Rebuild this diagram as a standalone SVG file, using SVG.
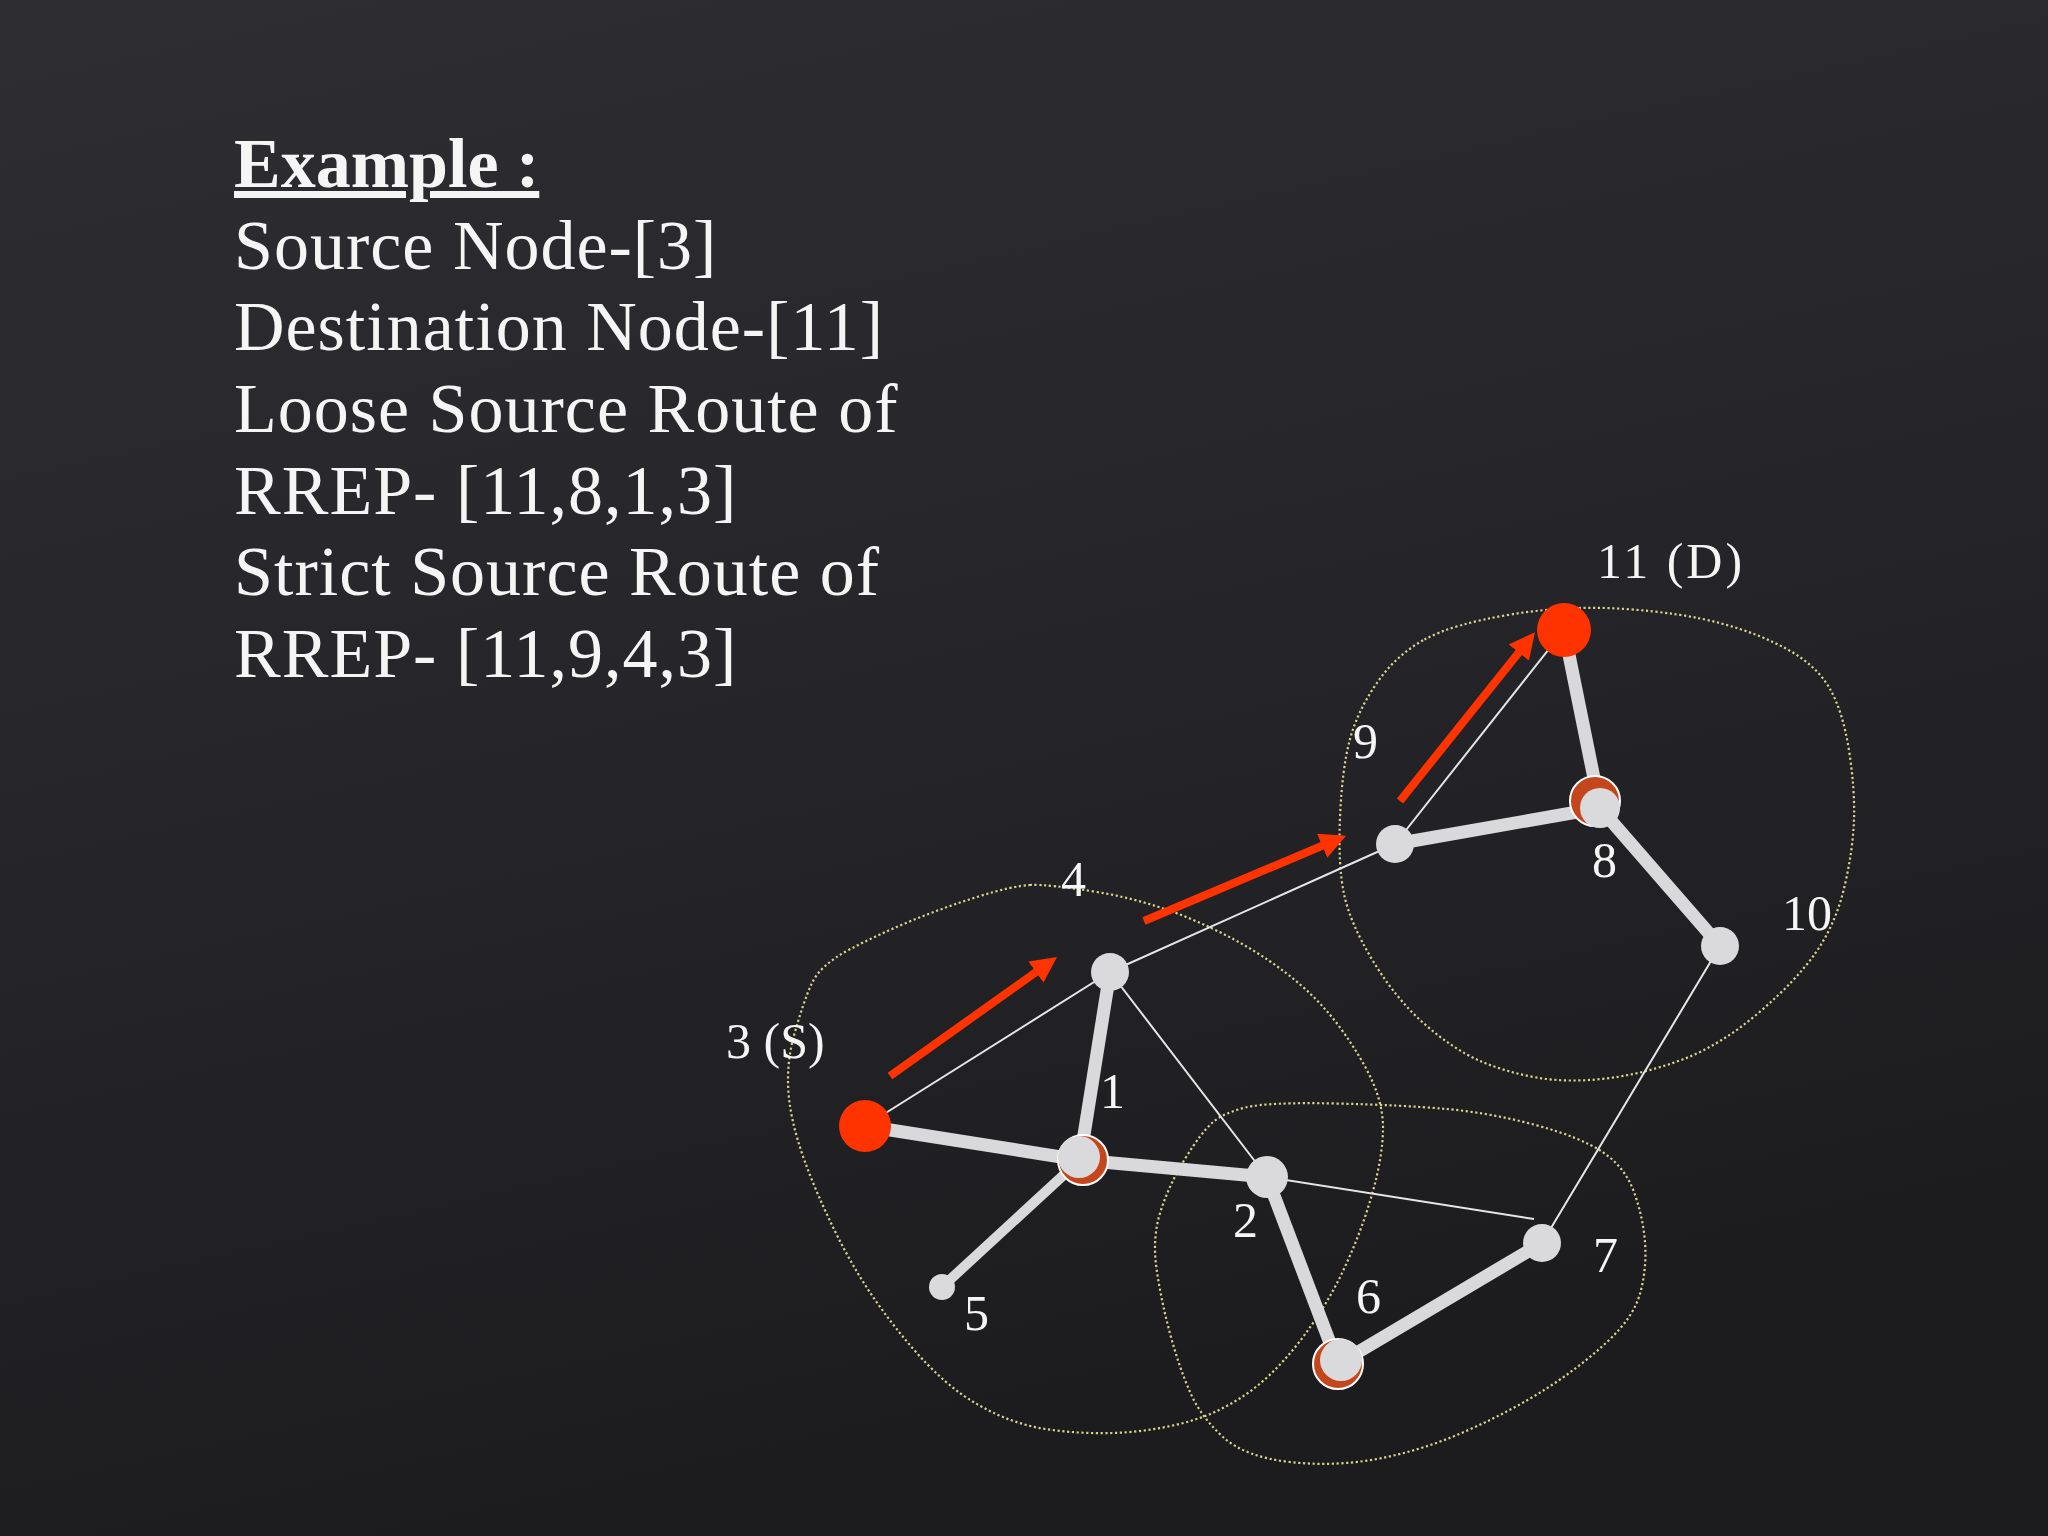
<svg xmlns="http://www.w3.org/2000/svg" width="2048" height="1536" viewBox="0 0 2048 1536">
<defs>
<linearGradient id="bg" x1="0" y1="0" x2="0.3" y2="1">
<stop offset="0" stop-color="#2d2d32"/>
<stop offset="0.5" stop-color="#26262a"/>
<stop offset="1" stop-color="#1c1c1f"/>
</linearGradient>
<marker id="ah" viewBox="0 0 26 26" refX="2" refY="13" markerWidth="26" markerHeight="26" markerUnits="userSpaceOnUse" orient="auto">
<path d="M0,0 L26,13 L0,26 Z" fill="#fe3300"/>
</marker>
<style>
.t{font-family:"Liberation Serif","Times New Roman",serif;fill:#f5f5f5;font-size:70px;letter-spacing:1px}
.tb{font-weight:bold;text-decoration:underline;letter-spacing:0}
.lbl{font-family:"Liberation Serif","Times New Roman",serif;fill:#f5f5f5;font-size:50px}
.zone{fill:none;stroke:#d8d28c;stroke-width:2.2;stroke-dasharray:2.2 2.6}
.thick{stroke:#d9d9db;stroke-width:13;stroke-linecap:butt}
.thin{stroke:#e6e6e6;stroke-width:2}
.arrow{stroke:#fe3300;stroke-width:8;marker-end:url(#ah)}
.node{fill:#dadadc}
.red{fill:#fe3300}
.ring{fill:#c4461d;stroke:#ffffff;stroke-width:2}
</style>
</defs>
<rect x="0" y="0" width="2048" height="1536" fill="url(#bg)"/>

<g id="text">
<text class="t tb" x="234" y="187">Example :</text>
<text class="t" x="234" y="269">Source Node-[3]</text>
<text class="t" x="234" y="350">Destination Node-[11]</text>
<text class="t" x="234" y="432">Loose Source Route of</text>
<text class="t" x="234" y="514">RREP- [11,8,1,3]</text>
<text class="t" x="234" y="595">Strict Source Route of</text>
<text class="t" x="234" y="677">RREP- [11,9,4,3]</text>
</g>

<g id="zones">
<path class="zone" d="M 1030 885 Q 1048 884 1097 892 Q 1146 900 1191 919 Q 1236 938 1269.5 961 Q 1303 984 1325 1009 Q 1347 1034 1365 1066.5 Q 1383 1099 1383 1127.5 Q 1383 1156 1372 1194.5 Q 1361 1233 1343 1271 Q 1325 1309 1298 1343.5 Q 1271 1378 1242 1397 Q 1213 1416 1179.5 1424 Q 1146 1432 1112.5 1433 Q 1079 1434 1045.5 1429 Q 1012 1424 978.5 1405 Q 945 1386 912 1347.5 Q 879 1309 856.5 1271 Q 834 1233 814 1185 Q 794 1137 789.5 1102.5 Q 785 1068 794 1035.5 Q 803 1003 811.5 984 Q 820 965 849.5 949.5 Q 879 934 912 920.5 Q 945 907 978.5 896.5 Q 1012 886 1030 885 Z"/>
<path class="zone" d="M 1424.5 639.5 Q 1453 624 1510.5 614.5 Q 1568 605 1625.5 609 Q 1683 613 1721.5 623.5 Q 1760 634 1788.5 650 Q 1817 666 1830 689 Q 1843 712 1849 750.5 Q 1855 789 1854 819.5 Q 1853 850 1844.5 886.5 Q 1836 923 1816.5 951.5 Q 1797 980 1759 1012.5 Q 1721 1045 1682.5 1059.5 Q 1644 1074 1606 1078.5 Q 1568 1083 1536.5 1077.5 Q 1505 1072 1479 1060.5 Q 1453 1049 1424.5 1024 Q 1396 999 1373 961 Q 1350 923 1344 894 Q 1338 865 1340 817.5 Q 1342 770 1349.5 741 Q 1357 712 1376.5 683.5 Q 1396 655 1424.5 639.5 Z"/>
<path class="zone" d="M 1245.5 1107.5 Q 1268 1102 1335 1103.5 Q 1402 1105 1446.5 1109 Q 1491 1113 1535.5 1125 Q 1580 1137 1602.5 1152 Q 1625 1167 1634 1192 Q 1643 1217 1645 1242 Q 1647 1267 1640.5 1292 Q 1634 1317 1607 1342 Q 1580 1367 1546.5 1388.5 Q 1513 1410 1468.5 1430 Q 1424 1450 1379.5 1458.5 Q 1335 1467 1290 1462 Q 1245 1457 1223 1437 Q 1201 1417 1190 1392 Q 1179 1367 1170 1333.5 Q 1161 1300 1156.5 1268.5 Q 1152 1237 1161 1210 Q 1170 1183 1185.5 1158 Q 1201 1133 1212 1123 Q 1223 1113 1245.5 1107.5 Z"/>
</g>

<g id="connectors">
<line class="thin" x1="865" y1="1126" x2="1110" y2="972"/>
<line class="thin" x1="1110" y1="972" x2="1395" y2="844"/>
<line class="thin" x1="1110" y1="972" x2="1267" y2="1177"/>
<line class="thin" x1="1267" y1="1177" x2="1534" y2="1219"/>
<line class="thin" x1="1395" y1="844" x2="1564" y2="630"/>
<line class="thin" x1="1720" y1="946" x2="1542" y2="1243"/>
<line class="thick" x1="865" y1="1126" x2="1080" y2="1160"/>
<line class="thick" x1="1080" y1="1160" x2="1110" y2="972"/>
<line class="thick" x1="1080" y1="1160" x2="942" y2="1287" style="stroke-width:10"/>
<line class="thick" x1="1080" y1="1160" x2="1267" y2="1177"/>
<line class="thick" x1="1267" y1="1177" x2="1338" y2="1364"/>
<line class="thick" x1="1338" y1="1364" x2="1542" y2="1243"/>
<line class="thick" x1="1395" y1="844" x2="1600" y2="808"/>
<line class="thick" x1="1600" y1="808" x2="1564" y2="630"/>
<line class="thick" x1="1600" y1="808" x2="1720" y2="946"/>
<line class="arrow" x1="890" y1="1076" x2="1037.5" y2="971"/>
<line class="arrow" x1="1144" y1="921" x2="1324" y2="845"/>
<line class="arrow" x1="1400" y1="801" x2="1520" y2="651"/>
</g>

<g id="node3"><circle class="red" cx="865" cy="1126" r="26"/><text class="lbl" x="726" y="1058">3 (S)</text></g>
<g id="node4"><circle class="node" cx="1110" cy="972" r="19"/><text class="lbl" x="1061" y="896">4</text></g>
<g id="node1"><circle class="ring" cx="1083" cy="1160" r="25"/><circle class="node" cx="1079" cy="1157" r="21"/><text class="lbl" x="1100" y="1108">1</text></g>
<g id="node2"><circle class="node" cx="1267" cy="1177" r="21"/><text class="lbl" x="1233" y="1237">2</text></g>
<g id="node5"><circle class="node" cx="942" cy="1287" r="13"/><text class="lbl" x="964" y="1330">5</text></g>
<g id="node6"><circle class="ring" cx="1338" cy="1364" r="25"/><circle class="node" cx="1341" cy="1360" r="21"/><text class="lbl" x="1356" y="1313">6</text></g>
<g id="node7"><circle class="node" cx="1542" cy="1243" r="19"/><text class="lbl" x="1593" y="1272">7</text></g>
<g id="node9"><circle class="node" cx="1395" cy="844" r="19"/><text class="lbl" x="1353" y="758">9</text></g>
<g id="node8"><circle class="ring" cx="1595" cy="801" r="25"/><circle class="node" cx="1600" cy="808" r="20"/><text class="lbl" x="1592" y="877">8</text></g>
<g id="node10"><circle class="node" cx="1720" cy="946" r="19"/><text class="lbl" x="1782" y="930">10</text></g>
<g id="node11"><circle class="red" cx="1564" cy="630" r="27"/><text class="lbl" x="1597" y="578" style="letter-spacing:3px">11 (D)</text></g>
</svg>
